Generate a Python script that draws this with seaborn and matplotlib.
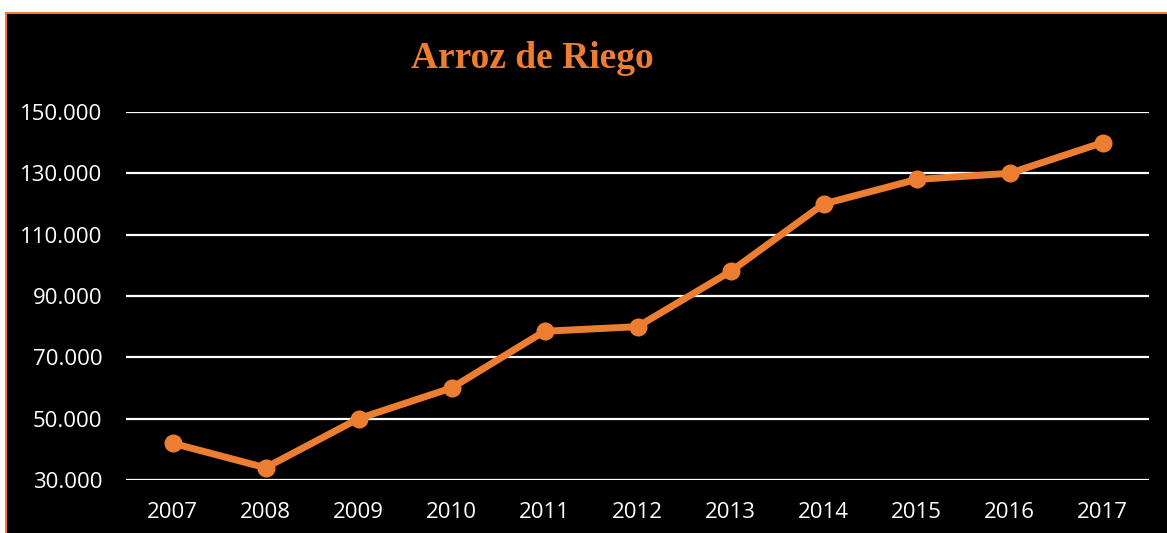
import numpy as np
import pandas as pd
import seaborn as sns
from matplotlib import pyplot as plt
from matplotlib.patches import Rectangle
from matplotlib.ticker import FuncFormatter

# datos
years = ['2007', '2008', '2009', '2010', '2011', '2012', '2013', '2014', '2015', '2016', '2017']
values = [42000, 34000, 50000, 60000, 78500, 80000, 98000, 120000, 128000, 130000, 140000]
y_ticks = [30000, 50000, 70000, 90000, 110000, 130000, 150000]

ORANGE = '#ED7D31'

df = pd.DataFrame({'Año': years, 'Hectáreas': values})

sns.set_style('dark')
plt.rcParams['font.family'] = ['Open Sans', 'DejaVu Sans']

fig = plt.figure(figsize=(11.67, 5.33), dpi=100)
fig.patch.set_facecolor('white')

# fondo negro con borde naranja (arriba e izquierda)
bg = Rectangle((6 / 1167, -0.1), 1.2, 1.1 - 13 / 533, transform=fig.transFigure,
               facecolor='black', edgecolor=ORANGE, linewidth=1.5, zorder=-5)
fig.patches.append(bg)

ax = fig.add_axes([126 / 1167, 1 - 480 / 533, (1149 - 126) / 1167, (480 - 112) / 533])
ax.set_facecolor('none')
ax.set_zorder(1)

sns.lineplot(data=df, x='Año', y='Hectáreas', ax=ax, color=ORANGE, linewidth=5,
             marker='o', markersize=13, markeredgewidth=0, zorder=3)

ax.set_xlim(-0.5, len(years) - 0.5)
ax.set_ylim(30000, 150000)
ax.set_yticks(y_ticks)
ax.yaxis.set_major_formatter(FuncFormatter(lambda v, p: f'{int(v):,}'.replace(',', '.')))
ax.grid(axis='y', color='white', linewidth=1.6)
ax.grid(axis='x', visible=False)
for s in ax.spines.values():
    s.set_visible(False)
ax.tick_params(axis='both', length=0, colors='white', labelsize=16)
ax.tick_params(axis='y', pad=17)
ax.tick_params(axis='x', pad=16)
ax.set_xlabel('')
ax.set_ylabel('')

fig.text(532 / 1167, 1 - 58 / 533, 'Arroz de Riego', color=ORANGE, fontsize=27,
         fontweight='bold', family=['Liberation Serif', 'DejaVu Serif'],
         ha='center', va='center', zorder=5)

fig.savefig('out.png', dpi=100)
